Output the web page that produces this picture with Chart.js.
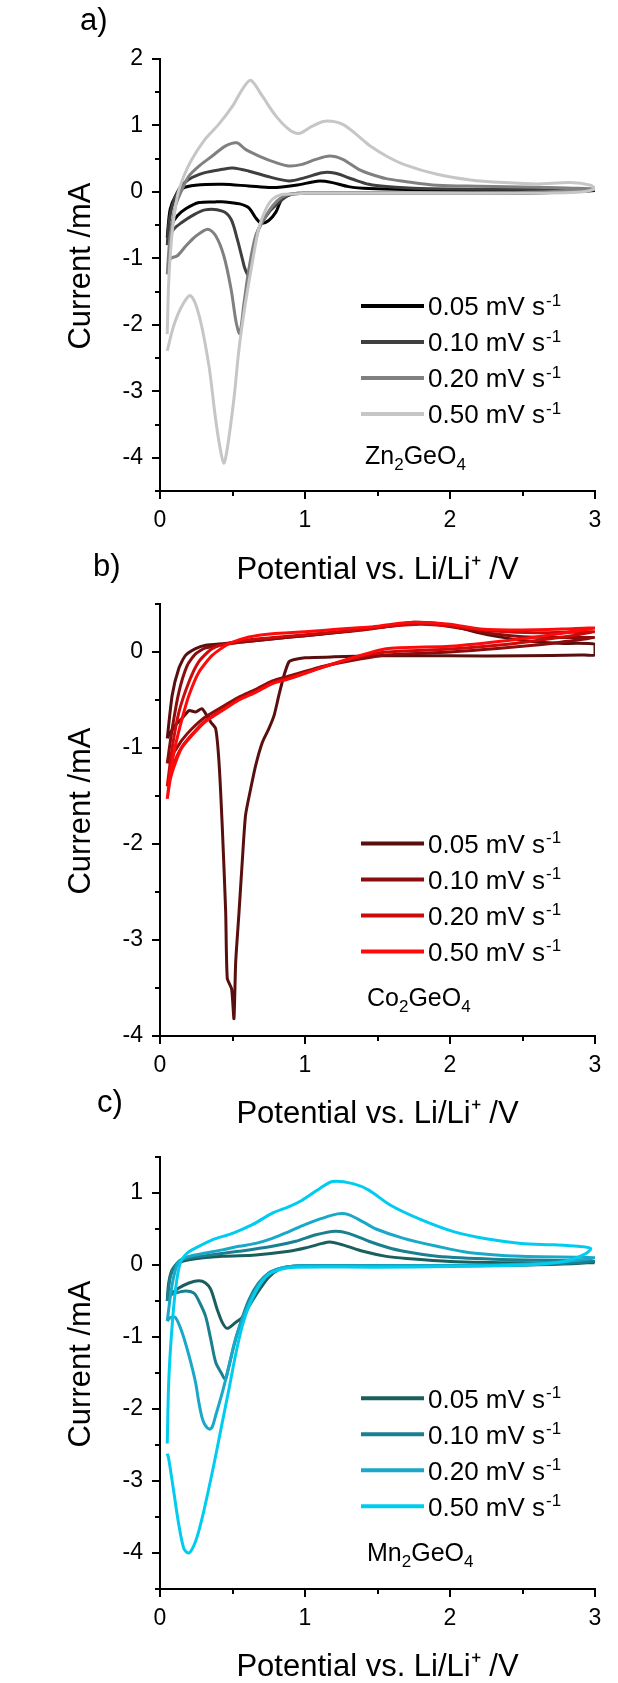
<!DOCTYPE html>
<html>
<head>
<meta charset="utf-8">
<script src="https://cdn.jsdelivr.net/npm/chart.js@4.4.1/dist/chart.umd.min.js"></script>
<style>
  html, body { margin: 0; padding: 0; background: #fff; }
  body { width: 618px; height: 1683px; position: relative; overflow: hidden; }
  canvas { position: absolute; left: 0; }
</style>
</head>
<body>
<canvas id="cvA"></canvas>
<canvas id="cvB"></canvas>
<canvas id="cvC"></canvas>
<script>
// ----- data (potential /V, current /mA), anodic sweep then cathodic sweep -----
const rates = ['0.05', '0.10', '0.20', '0.50']
const xTicks = [0, 1, 2, 3]
const xMinor = [0.5, 1.5, 2.5]

// a) Zn2GeO4
const znV005 = [0.05, 0.07, 0.107, 0.153, 0.245, 0.43, 0.61, 0.775, 0.935, 1.1, 1.19, 1.3, 1.44, 1.7, 2.2, 2.7, 3.0,
  2.5, 2.0, 1.5, 1.1, 0.95, 0.9, 0.84, 0.8, 0.75, 0.7, 0.66, 0.613, 0.55, 0.45, 0.38, 0.27, 0.18, 0.12, 0.075, 0.05]
const znI005 = [-0.68, -0.26, -0.06, 0.05, 0.10, 0.115, 0.09, 0.065, 0.10, 0.165, 0.14, 0.08, 0.05, 0.035, 0.03, 0.02, 0.02,
  -0.02, -0.02, -0.02, -0.02, -0.02, -0.04, -0.11, -0.3, -0.43, -0.47, -0.39, -0.24, -0.18, -0.15, -0.15, -0.16, -0.25, -0.36, -0.51, -0.7]
const znV010 = [0.05, 0.06, 0.084, 0.13, 0.2, 0.31, 0.43, 0.5, 0.61, 0.73, 0.89, 1.0, 1.12, 1.21, 1.33, 1.44, 1.56, 1.8, 2.3, 3.0,
  2.5, 1.5, 1.0, 0.92, 0.89, 0.82, 0.75, 0.68, 0.637, 0.61, 0.585, 0.567, 0.533, 0.49, 0.43, 0.31, 0.22, 0.15, 0.095, 0.06, 0.05]
const znI010 = [-0.8, -0.5, -0.21, 0.04, 0.19, 0.29, 0.34, 0.36, 0.315, 0.24, 0.165, 0.215, 0.29, 0.28, 0.19, 0.115, 0.08, 0.05, 0.04, 0.03,
  -0.02, -0.02, -0.02, -0.03, -0.04, -0.16, -0.31, -0.56, -0.96, -1.25, -1.15, -1.0, -0.71, -0.41, -0.29, -0.27, -0.36, -0.46, -0.56, -0.7, -0.78]
const znV020 = [0.05, 0.07, 0.107, 0.153, 0.2, 0.27, 0.36, 0.45, 0.53, 0.59, 0.683, 0.8, 0.89, 0.98, 1.075, 1.17, 1.26, 1.37, 1.45, 1.56, 1.68, 1.91, 2.2, 2.6, 3.0,
  2.5, 1.5, 1.0, 0.9, 0.84, 0.78, 0.72, 0.66, 0.613, 0.58, 0.55, 0.525, 0.49, 0.44, 0.384, 0.33, 0.25, 0.18, 0.12, 0.075, 0.05]
const znI020 = [-1.24, -0.66, -0.21, 0.04, 0.24, 0.39, 0.54, 0.69, 0.74, 0.64, 0.54, 0.44, 0.39, 0.415, 0.49, 0.54, 0.49, 0.34, 0.27, 0.2, 0.16, 0.1, 0.085, 0.07, 0.04,
  -0.01, -0.02, -0.02, -0.03, -0.08, -0.2, -0.4, -0.66, -1.16, -1.66, -2.13, -1.96, -1.46, -0.96, -0.66, -0.56, -0.66, -0.81, -0.96, -1.0, -1.1]
const znV050 = [0.05, 0.06, 0.084, 0.12, 0.165, 0.22, 0.31, 0.406, 0.5, 0.567, 0.625, 0.706, 0.8, 0.89, 0.96, 1.05, 1.14, 1.26, 1.4, 1.45, 1.56, 1.68, 1.91, 2.14, 2.37, 2.6, 2.83, 2.97, 3.0,
  2.9, 2.5, 1.5, 1.0, 0.94, 0.84, 0.775, 0.73, 0.68, 0.637, 0.59, 0.545, 0.51, 0.464, 0.44, 0.41, 0.38, 0.337, 0.27, 0.21, 0.153, 0.095, 0.05]
const znI050 = [-2.14, -1.36, -0.61, -0.06, 0.24, 0.49, 0.79, 1.02, 1.29, 1.54, 1.68, 1.44, 1.14, 0.94, 0.88, 0.99, 1.065, 1.015, 0.78, 0.69, 0.54, 0.415, 0.265, 0.18, 0.14, 0.12, 0.14, 0.1, 0.05,
  0.0, -0.02, -0.02, -0.02, -0.03, -0.04, -0.11, -0.26, -0.56, -1.06, -1.66, -2.36, -3.11, -3.86, -4.08, -3.8, -3.36, -2.61, -1.86, -1.56, -1.71, -2.01, -2.39]

// b) Co2GeO4
const coV005 = [0.05, 0.084, 0.13, 0.176, 0.245, 0.315, 0.43, 0.6, 0.8, 1.0, 1.2, 1.4, 1.6, 1.75, 1.9, 2.05, 2.2, 2.33, 2.5, 2.75, 3.0,
  3.0, 2.9, 2.5, 2.0, 1.5, 1.2, 1.0, 0.92, 0.89, 0.856, 0.82, 0.787, 0.75, 0.706, 0.66, 0.626, 0.59, 0.567, 0.545, 0.522, 0.51, 0.494, 0.464, 0.453, 0.43, 0.407, 0.384, 0.35, 0.29, 0.245, 0.2, 0.153, 0.107, 0.06, 0.05]
const coI005 = [-0.9, -0.45, -0.17, -0.035, 0.035, 0.07, 0.087, 0.11, 0.14, 0.17, 0.2, 0.24, 0.28, 0.31, 0.30, 0.26, 0.2, 0.16, 0.12, 0.09, 0.08,
  -0.03, -0.03, -0.04, -0.04, -0.04, -0.05, -0.06, -0.08, -0.1, -0.24, -0.45, -0.66, -0.8, -0.94, -1.18, -1.42, -1.7, -2.19, -2.71, -3.23, -3.82, -3.51, -3.40, -2.71, -1.84, -1.15, -0.8, -0.73, -0.59, -0.625, -0.61, -0.69, -0.76, -0.87, -0.9]
const coV010 = [0.05, 0.084, 0.13, 0.188, 0.245, 0.31, 0.43, 0.6, 0.8, 1.0, 1.2, 1.4, 1.6, 1.75, 1.9, 2.1, 2.3, 2.5, 2.75, 3.0,
  2.75, 2.5, 2.0, 1.56, 1.35, 1.12, 0.89, 0.775, 0.66, 0.545, 0.43, 0.31, 0.22, 0.15, 0.107, 0.07, 0.05]
const coI010 = [-1.16, -0.8, -0.42, -0.14, -0.02, 0.04, 0.076, 0.11, 0.14, 0.17, 0.2, 0.23, 0.27, 0.3, 0.29, 0.24, 0.19, 0.16, 0.15, 0.15,
  0.1, 0.06, 0.0, -0.03, -0.08, -0.15, -0.25, -0.3, -0.39, -0.47, -0.57, -0.68, -0.8, -0.92, -1.02, -1.1, -1.16]
const coV020 = [0.05, 0.084, 0.13, 0.2, 0.268, 0.36, 0.5, 0.7, 1.0, 1.3, 1.6, 1.8, 2.0, 2.3, 2.6, 3.0,
  2.75, 2.4, 2.0, 1.56, 1.35, 1.12, 0.89, 0.775, 0.66, 0.545, 0.43, 0.31, 0.22, 0.15, 0.107, 0.072, 0.05]
const coI020 = [-1.4, -1.0, -0.63, -0.31, -0.1, 0.035, 0.1, 0.14, 0.18, 0.22, 0.27, 0.29, 0.27, 0.22, 0.2, 0.21,
  0.15, 0.08, 0.03, 0.0, -0.06, -0.16, -0.27, -0.32, -0.41, -0.49, -0.6, -0.72, -0.86, -0.99, -1.12, -1.27, -1.4]
const coV050 = [0.05, 0.072, 0.107, 0.153, 0.2, 0.268, 0.36, 0.475, 0.614, 0.775, 1.0, 1.24, 1.45, 1.6, 1.75, 2.0, 2.21, 2.5, 2.8, 3.0,
  2.75, 2.4, 2.0, 1.56, 1.35, 1.12, 0.89, 0.775, 0.66, 0.545, 0.43, 0.31, 0.22, 0.15, 0.107, 0.072, 0.05]
const coI050 = [-1.53, -1.25, -0.97, -0.69, -0.45, -0.21, -0.035, 0.087, 0.156, 0.19, 0.21, 0.24, 0.26, 0.29, 0.31, 0.29, 0.24, 0.23, 0.24, 0.25,
  0.19, 0.12, 0.06, 0.035, -0.05, -0.16, -0.28, -0.33, -0.42, -0.5, -0.61, -0.73, -0.87, -1.0, -1.15, -1.32, -1.53]

// c) Mn2GeO4
const mnV005 = [0.05, 0.06, 0.084, 0.13, 0.2, 0.43, 0.66, 0.89, 1.0, 1.12, 1.17, 1.26, 1.4, 1.56, 1.7, 2.0, 2.5, 3.0,
  2.5, 2.0, 1.5, 1.0, 0.9, 0.82, 0.75, 0.68, 0.62, 0.57, 0.52, 0.464, 0.43, 0.395, 0.35, 0.314, 0.268, 0.2, 0.13, 0.084, 0.05]
const mnI005 = [-0.5, -0.25, -0.065, 0.03, 0.074, 0.12, 0.14, 0.19, 0.235, 0.3, 0.32, 0.28, 0.19, 0.12, 0.09, 0.05, 0.03, 0.03,
  0.0, -0.01, -0.01, -0.01, -0.02, -0.06, -0.17, -0.36, -0.55, -0.72, -0.8, -0.88, -0.8, -0.62, -0.34, -0.25, -0.22, -0.25, -0.32, -0.39, -0.48]
const mnV010 = [0.05, 0.072, 0.107, 0.153, 0.315, 0.545, 0.775, 0.936, 1.075, 1.21, 1.3, 1.44, 1.56, 1.68, 1.91, 2.3, 3.0,
  2.5, 2.0, 1.0, 0.9, 0.82, 0.75, 0.68, 0.614, 0.556, 0.51, 0.464, 0.45, 0.42, 0.384, 0.35, 0.314, 0.268, 0.234, 0.176, 0.107, 0.06, 0.05]
const mnI010 = [-0.5, -0.16, 0.0, 0.074, 0.13, 0.19, 0.26, 0.33, 0.42, 0.47, 0.44, 0.33, 0.25, 0.19, 0.12, 0.08, 0.05,
  0.0, -0.01, -0.01, -0.02, -0.05, -0.11, -0.25, -0.48, -0.8, -1.12, -1.5, -1.59, -1.49, -1.35, -1.03, -0.71, -0.5, -0.39, -0.36, -0.39, -0.43, -0.5]
const mnV020 = [0.05, 0.072, 0.095, 0.13, 0.2, 0.315, 0.43, 0.545, 0.66, 0.775, 0.89, 1.0, 1.12, 1.225, 1.3, 1.4, 1.49, 1.68, 1.91, 2.14, 2.49, 3.0,
  2.7, 2.3, 1.5, 1.0, 0.9, 0.8, 0.706, 0.637, 0.567, 0.52, 0.476, 0.43, 0.384, 0.36, 0.34, 0.31, 0.29, 0.268, 0.245, 0.2, 0.153, 0.107, 0.072, 0.05]
const mnI020 = [-0.78, -0.43, -0.16, 0.05, 0.12, 0.166, 0.21, 0.26, 0.3, 0.37, 0.465, 0.56, 0.65, 0.71, 0.7, 0.6, 0.5, 0.37, 0.26, 0.17, 0.12, 0.1,
  0.03, 0.0, -0.01, -0.01, -0.02, -0.065, -0.2, -0.43, -0.76, -1.03, -1.4, -1.77, -2.09, -2.25, -2.28, -2.22, -2.12, -1.91, -1.63, -1.26, -0.94, -0.73, -0.73, -0.78]
const mnV050 = [0.05, 0.06, 0.08, 0.107, 0.14, 0.188, 0.245, 0.36, 0.5, 0.637, 0.775, 0.89, 0.98, 1.1, 1.19, 1.33, 1.44, 1.59, 1.8, 2.03, 2.26, 2.49, 2.72, 2.88, 2.97,
  2.93, 2.79, 2.5, 2.0, 1.5, 0.94, 0.84, 0.75, 0.68, 0.614, 0.567, 0.52, 0.476, 0.43, 0.384, 0.337, 0.29, 0.245, 0.2, 0.165, 0.13, 0.095, 0.06, 0.05]
const mnI050 = [-2.48, -1.63, -0.94, -0.34, 0.03, 0.166, 0.235, 0.35, 0.44, 0.56, 0.72, 0.81, 0.9, 1.06, 1.16, 1.13, 1.04, 0.83, 0.63, 0.46, 0.36, 0.30, 0.28, 0.26, 0.23,
  0.15, 0.05, 0.0, -0.02, -0.03, -0.03, -0.055, -0.13, -0.3, -0.57, -0.85, -1.26, -1.72, -2.18, -2.65, -3.1, -3.52, -3.84, -4.0, -3.94, -3.61, -3.15, -2.69, -2.62]

// ----- helpers -----
const FONT = "'Liberation Sans', Arial, sans-serif"
const pts = (v, i) => v.map((x, k) => ({ x, y: i[k] }))

function line(ctx, x1, y1, x2, y2) {
  ctx.beginPath(); ctx.moveTo(x1, y1); ctx.lineTo(x2, y2); ctx.stroke()
}

// panel letter, rotated y title, minor ticks, legend and compound name
const decor = {
  id: 'decor',
  afterDraw(chart, args, o) {
    const { ctx, chartArea: ca, scales } = chart
    const t = o.canvasTop
    ctx.save()
    ctx.strokeStyle = '#000'
    ctx.fillStyle = '#000'
    ctx.lineWidth = 2
    xMinor.forEach(v => {
      const px = Math.round(scales.x.getPixelForValue(v))
      line(ctx, px, ca.bottom, px, ca.bottom + 5)
    })
    o.yMinor.forEach(v => {
      const py = Math.round(scales.y.getPixelForValue(v))
      line(ctx, ca.left - 5, py, ca.left, py)
    })

    ctx.textAlign = 'left'
    ctx.textBaseline = 'alphabetic'
    ctx.font = `31px ${FONT}`
    ctx.fillText(o.letter, o.letterX, o.letterY - t)

    ctx.save()
    ctx.translate(81, (ca.top + ca.bottom) / 2 - 9)
    ctx.rotate(-Math.PI / 2)
    ctx.textAlign = 'center'
    ctx.textBaseline = 'middle'
    ctx.fillText('Current /mA', 0, 0)
    ctx.restore()

    chart.data.datasets.forEach((ds, i) => {
      const y = o.legendY - t + i * 36
      ctx.strokeStyle = ds.borderColor
      ctx.lineWidth = 4
      line(ctx, 361, y, 424, y)
      const base = y + 9.3
      const txt = rates[i] + ' mV s'
      ctx.font = `26px ${FONT}`
      ctx.fillText(txt, 428, base)
      const w = ctx.measureText(txt).width
      ctx.font = `17px ${FONT}`
      ctx.fillText('-1', 428 + w + 1, base - 9.7)
    })

    let x = o.nameX
    const nb = o.nameY - t
    o.name.forEach(([s, sub]) => {
      ctx.font = sub ? `17px ${FONT}` : `25px ${FONT}`
      ctx.fillText(s, x, sub ? nb + 6 : nb)
      x += ctx.measureText(s).width
    })
    ctx.restore()
  }
}

function makePanel(id, p, series, colors) {
  const cv = document.getElementById(id)
  cv.width = 618
  cv.height = p.height
  cv.style.top = p.top + 'px'
  cv.style.width = '618px'
  cv.style.height = p.height + 'px'

  const xBox = p.top + p.height - p.plotBottom
  const titlePad = p.top + p.height - p.titleY - 15.5

  return new Chart(cv.getContext('2d'), {
    type: 'scatter',
    data: {
      datasets: series.map((s, i) => ({
        label: rates[i] + ' mV s⁻¹',
        data: pts(s[0], s[1]),
        showLine: true,
        borderColor: colors[i],
        borderWidth: 3,
        pointRadius: 0,
        tension: p.tension,
        fill: false,
        order: 3 - i,
      })),
    },
    options: {
      responsive: false,
      animation: false,
      events: [],
      layout: { padding: { top: p.plotTop - p.top, left: 0, right: 23, bottom: 0 } },
      plugins: {
        legend: { display: false },
        tooltip: { enabled: false },
        decor: {
          canvasTop: p.top,
          letter: p.letter, letterX: p.letterX, letterY: p.letterY,
          legendY: p.legendY,
          name: p.name, nameX: p.nameX, nameY: p.nameY,
          yMinor: p.yMinor,
        },
      },
      scales: {
        x: {
          type: 'linear', min: 0, max: 3,
          afterFit: s => { s.height = xBox },
          afterBuildTicks: s => { s.ticks = xTicks.map(v => ({ value: v })) },
          grid: { drawOnChartArea: false, color: '#000', lineWidth: 2, tickLength: 8 },
          border: { display: true, color: '#000', width: 2 },
          ticks: { color: '#000', font: { family: FONT, size: 23 }, padding: 8, maxRotation: 0, autoSkip: false },
          title: {
            display: true, text: 'Potential vs. Li/Li⁺ /V', color: '#000',
            font: { family: FONT, size: 31, lineHeight: 1 },
            padding: { top: 0, bottom: titlePad },
          },
        },
        y: {
          type: 'linear', min: p.yMin, max: p.yMax,
          afterFit: s => { s.width = 160 },
          afterBuildTicks: s => { s.ticks = p.yTicks.map(v => ({ value: v })) },
          grid: { drawOnChartArea: false, color: '#000', lineWidth: 2, tickLength: 8 },
          border: { display: true, color: '#000', width: 2 },
          ticks: { color: '#000', font: { family: FONT, size: 23 }, padding: 9 },
        },
      },
    },
    plugins: [decor],
  })
}

makePanel('cvA', {
  top: 0, height: 590, plotTop: 59, plotBottom: 491, titleY: 570, tension: 0.3,
  yMin: -4.5, yMax: 2, yTicks: [-4, -3, -2, -1, 0, 1, 2], yMinor: [-4.5, -3.5, -2.5, -1.5, -0.5, 0.5, 1.5],
  letter: 'a)', letterX: 80, letterY: 30,
  legendY: 306, name: [['Zn', 0], ['2', 1], ['GeO', 0], ['4', 1]], nameX: 365, nameY: 464,
}, [[znV005, znI005], [znV010, znI010], [znV020, znI020], [znV050, znI050]],
['#000000', '#3f3f3f', '#808080', '#c6c6c6'])

makePanel('cvB', {
  top: 545, height: 585, plotTop: 604, plotBottom: 1036, titleY: 1114, tension: 0.2,
  yMin: -4, yMax: 0.5, yTicks: [-4, -3, -2, -1, 0], yMinor: [-3.5, -2.5, -1.5, -0.5, 0.5],
  letter: 'b)', letterX: 93, letterY: 576,
  legendY: 843.5, name: [['Co', 0], ['2', 1], ['GeO', 0], ['4', 1]], nameX: 367, nameY: 1006,
}, [[coV005, coI005], [coV010, coI010], [coV020, coI020], [coV050, coI050]],
['#5a0f0f', '#8a0c0c', '#cc0a0a', '#ff0a0a'])

makePanel('cvC', {
  top: 1080, height: 603, plotTop: 1157, plotBottom: 1589, titleY: 1667, tension: 0.3,
  yMin: -4.5, yMax: 1.5, yTicks: [-4, -3, -2, -1, 0, 1], yMinor: [-4.5, -3.5, -2.5, -1.5, -0.5, 0.5, 1.5],
  letter: 'c)', letterX: 97, letterY: 1112,
  legendY: 1398.3, name: [['Mn', 0], ['2', 1], ['GeO', 0], ['4', 1]], nameX: 367, nameY: 1561,
}, [[mnV005, mnI005], [mnV010, mnI010], [mnV020, mnI020], [mnV050, mnI050]],
['#1a5e5e', '#1a8090', '#1aa8c8', '#00ccf0'])
</script>
</body>
</html>
